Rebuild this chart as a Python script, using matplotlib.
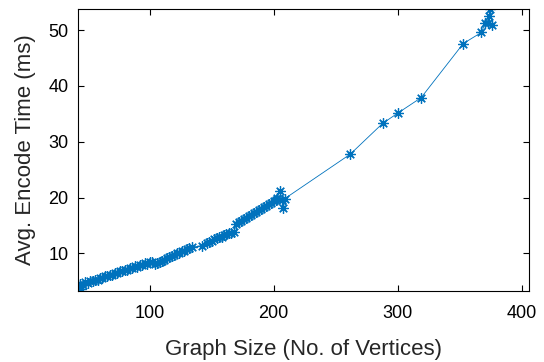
import matplotlib
matplotlib.use("Agg")
import matplotlib.pyplot as plt
import numpy as np

plt.rcParams['font.family'] = ['Liberation Sans', 'DejaVu Sans']

# Graph size (number of vertices)
graph_size = [
    42, 43, 44, 45, 46, 48, 50, 52, 54, 56, 58, 60, 62, 64, 66, 68, 70, 72, 74, 76, 78,
    80, 82, 84, 86, 88, 90, 92, 94, 96, 98, 100, 102, 104, 106, 108, 110, 112, 114,
    116, 118, 120, 122, 124, 126, 128, 130, 132, 134,
    142.5, 146, 148, 150, 152, 154, 156, 158, 160, 162, 164, 166, 168,
    170, 172, 174, 176, 178, 180, 182, 184, 186, 188, 190, 192, 194, 196, 198, 200, 202, 203,
    205, 207, 208, 209,
    262, 288, 300, 319, 353, 367.7, 370.7, 372.6, 374, 374.8, 376.5,
]
# Average encode time (ms)
encode_time = [
    4.3, 4.0, 4.5, 3.7, 4.4, 4.8, 4.7, 5.0, 5.0, 5.3, 5.3, 5.6, 5.6, 5.9, 5.9, 6.2, 6.2, 6.5, 6.5, 6.8, 6.8,
    7.1, 7.0, 7.4, 7.3, 7.7, 7.6, 7.9, 7.9, 8.2, 8.1, 8.5, 8.5, 8.1, 8.3, 8.5, 8.7, 8.9, 9.1,
    9.3, 9.6, 9.7, 10.0, 10.1, 10.4, 10.5, 10.8, 10.9, 11.1,
    11.4, 11.8, 12.1, 12.3, 12.6, 12.7, 13.0, 13.0, 13.3, 13.4, 13.6, 13.7, 13.9,
    15.2, 15.6, 15.8, 16.1, 16.3, 16.7, 16.8, 17.2, 17.4, 17.8, 17.9, 18.3, 18.5, 18.9, 19.0, 19.4, 19.6, 19.9,
    21.1, 19.6, 18.1, 19.8,
    27.8, 33.3, 35.1, 37.9, 47.6, 49.6, 51.3, 51.3, 52.5, 53.8, 51.0,
]

x_ticks = [100, 200, 300, 400]
y_ticks = [10, 20, 30, 40, 50]

fig = plt.figure(figsize=(5.44, 3.62), dpi=100)
ax = fig.add_axes([0.1428, 0.1975, 0.8296, 0.7763])

color = '#0072BD'
ax.plot(graph_size, encode_time, color=color, linewidth=0.6,
        marker=(8, 2, 0), markersize=7.5, markeredgewidth=0.9,
        markeredgecolor=color, clip_on=True)

ax.set_xlim(42, 406)
ax.set_ylim(3.35, 53.7)
ax.set_xticks(x_ticks)
ax.set_yticks(y_ticks)
ax.tick_params(axis='both', direction='in', length=4.5, width=0.8, top=True, right=True,
               labelsize=13, colors='black')
ax.tick_params(axis='x', pad=10.5)
ax.tick_params(axis='y', pad=6.5)
for s in ax.spines.values():
    s.set_linewidth(0.8)
    s.set_color('black')

ax.set_xlabel('Graph Size (No. of Vertices)', fontsize=16, color='#262626', labelpad=12)
ax.set_ylabel('Avg. Encode Time (ms)', fontsize=16, color='#262626', labelpad=9)

fig.savefig('out.png', dpi=100)
